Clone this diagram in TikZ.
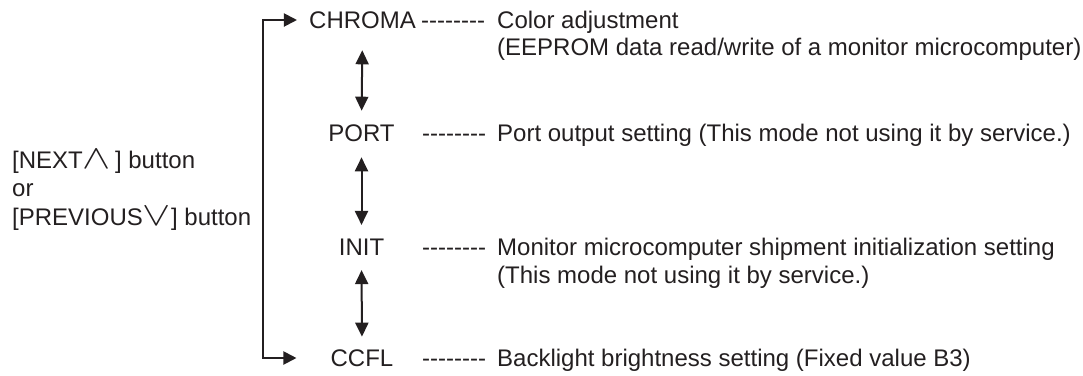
\documentclass[tikz,border=0pt]{standalone}
\usepackage{fontspec}
\newfontfamily\arial{Liberation Sans}
\usetikzlibrary{arrows.meta}
\definecolor{ink}{HTML}{231F20}
\newcommand\dashline{--------}
\newcommand\bigsym[1]{\scalebox{1.7}[1.35]{$#1$}}
\begin{document}
\begin{tikzpicture}[x=1pt,y=-1pt,
  lbl/.style={inner sep=0pt, text=ink, font=\arial\fontsize{24}{28}\selectfont},
  modename/.style={lbl, anchor=center},
  txt/.style={lbl, anchor=base west},
  dbl/.style={line width=2pt, draw=ink, {Triangle[length=14pt,width=13pt]}-{Triangle[length=14pt,width=13pt]}}]
\useasboundingbox (0,0) rectangle (1083,375);
% mode names
\node[modename] (chroma) at (362.5,20) {CHROMA};
\node[modename] (port) at (361.5,133) {PORT};
\node[modename] (init) at (361.5,247) {INIT};
\node[modename] (ccfl) at (362,358) {CCFL};
% dashes
\node[txt] (d1) at (421,28.6) {\dashline};
\node[txt] (d2) at (422,141.6) {\dashline};
\node[txt] (d3) at (422,255.6) {\dashline};
\node[txt] (d4) at (422,366.6) {\dashline};
% descriptions
\node[txt] (t1) at (497,28.6) {Color adjustment};
\node[txt] (t1b) at (497,55.6) {(EEPROM data read/write of a monitor microcomputer)};
\node[txt] (t2) at (497,141.6) {Port output setting (This mode not using it by service.)};
\node[txt] (t3) at (497,255.6) {Monitor microcomputer shipment initialization setting};
\node[txt] (t3b) at (497,283) {(This mode not using it by service.)};
\node[txt] (t4) at (497,366.6) {Backlight brightness setting (Fixed value B3)};
% left text
\node[txt] (l1) at (12,168.5) {[NEXT\bigsym{\wedge}\,] button};
\node[txt] (l2) at (12,196.5) {or};
\node[txt] (l3) at (12,225) {[PREVIOUS\bigsym{\vee}] button};
% double arrows
\draw[dbl, shorten <=21.6pt, shorten >=13.6pt] (chroma.south) -- (port.north);
\draw[dbl, shorten <=15.6pt, shorten >=13.6pt] (port.south) -- (init.north);
\draw[dbl, shorten <=14.6pt, shorten >=12.6pt] (init.south) -- (ccfl.north);
% bracket
\coordinate (bk) at (263,190);
\draw[line width=2pt, draw=ink, {Triangle[length=13pt,width=13pt]}-{Triangle[length=13pt,width=13pt]}, shorten <=12pt, shorten >=34pt] (chroma.west) -| (bk) |- (ccfl.west);
\end{tikzpicture}
\end{document}
